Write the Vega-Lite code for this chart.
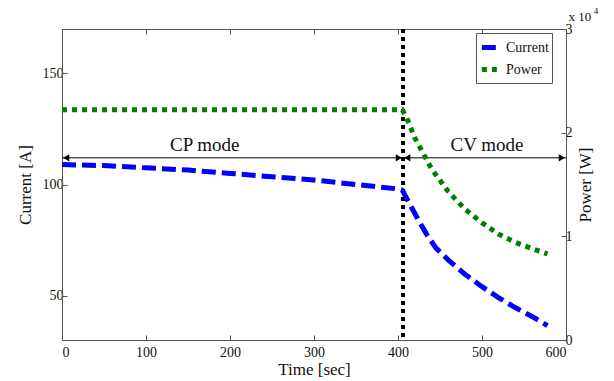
{
  "$schema": "https://vega.github.io/schema/vega-lite/v6.json",
  "width": 504,
  "height": 311,
  "autosize": {"type": "none"},
  "padding": {"left": 62, "top": 29, "right": 48, "bottom": 41},
  "background": "white",
  "config": {
    "font": "Liberation Serif",
    "view": {"stroke": "#555", "strokeWidth": 1},
    "axis": {
      "labelFont": "Liberation Serif", "titleFont": "Liberation Serif",
      "labelFontSize": 14, "titleFontSize": 17, "titleFontWeight": "normal",
      "labelColor": "#111", "titleColor": "#111",
      "domainColor": "#555", "tickColor": "#555", "grid": false
    }
  },
  "datasets": {
    "current": [
      {"t": 0, "current": 109, "series": "Current"},
      {"t": 50, "current": 108.5, "series": "Current"},
      {"t": 100, "current": 107.5, "series": "Current"},
      {"t": 150, "current": 106.5, "series": "Current"},
      {"t": 200, "current": 105, "series": "Current"},
      {"t": 250, "current": 103.5, "series": "Current"},
      {"t": 300, "current": 102, "series": "Current"},
      {"t": 350, "current": 100, "series": "Current"},
      {"t": 400, "current": 98, "series": "Current"},
      {"t": 405, "current": 97.5, "series": "Current"},
      {"t": 415, "current": 90.5, "series": "Current"},
      {"t": 425, "current": 83.5, "series": "Current"},
      {"t": 435, "current": 77, "series": "Current"},
      {"t": 445, "current": 71.5, "series": "Current"},
      {"t": 460, "current": 66, "series": "Current"},
      {"t": 480, "current": 59.5, "series": "Current"},
      {"t": 500, "current": 54, "series": "Current"},
      {"t": 520, "current": 49, "series": "Current"},
      {"t": 540, "current": 44.5, "series": "Current"},
      {"t": 560, "current": 40.5, "series": "Current"},
      {"t": 578, "current": 36.5, "series": "Current"}
    ],
    "power": [
      {"t": 0, "power": 22200, "series": "Power"},
      {"t": 200, "power": 22200, "series": "Power"},
      {"t": 405, "power": 22200, "series": "Power"},
      {"t": 410, "power": 21500, "series": "Power"},
      {"t": 420, "power": 19500, "series": "Power"},
      {"t": 440, "power": 16500, "series": "Power"},
      {"t": 460, "power": 14300, "series": "Power"},
      {"t": 480, "power": 12600, "series": "Power"},
      {"t": 500, "power": 11300, "series": "Power"},
      {"t": 520, "power": 10200, "series": "Power"},
      {"t": 540, "power": 9400, "series": "Power"},
      {"t": 560, "power": 8800, "series": "Power"},
      {"t": 578, "power": 8300, "series": "Power"}
    ],
    "switch": [{"t": 406}],
    "arrows": [
      {"x1": 0, "x2": 406, "y": 112},
      {"x1": 406, "x2": 600, "y": 112}
    ],
    "heads": [
      {"t": 5, "y": 112, "dir": "left"},
      {"t": 401, "y": 112, "dir": "right"},
      {"t": 411, "y": 112, "dir": "left"},
      {"t": 595, "y": 112, "dir": "right"}
    ],
    "labels": [
      {"t": 170, "y": 118, "text": "CP mode"},
      {"t": 506, "y": 118, "text": "CV mode"}
    ],
    "mult": [
      {"t": 603, "y": 175.5, "text": "x 10", "size": 13},
      {"t": 633, "y": 178, "text": "4", "size": 9}
    ]
  },
  "layer": [
    {
      "layer": [
        {
          "data": {"name": "switch"},
          "mark": {"type": "rule", "color": "black", "strokeWidth": 4, "strokeDash": [4, 4]},
          "encoding": {"x": {"field": "t", "type": "quantitative"}}
        },
        {
          "data": {"name": "current"},
          "mark": {"type": "line", "strokeWidth": 5},
          "encoding": {
            "x": {"field": "t", "type": "quantitative", "scale": {"domain": [0, 600]},
              "axis": {"title": "Time [sec]", "values": [0, 100, 200, 300, 400, 500, 600], "tickSize": -5, "labelPadding": 10, "titlePadding": 2}},
            "y": {"field": "current", "type": "quantitative", "scale": {"domain": [30, 170]},
              "axis": {"title": "Current [A]", "values": [50, 100, 150], "tickSize": -5, "labelPadding": 4, "titlePadding": 8}},
            "color": {"field": "series", "type": "nominal",
              "scale": {"domain": ["Current", "Power"], "range": ["#0000ff", "#008000"]},
              "legend": {"title": null, "orient": "none", "legendX": 414, "legendY": 4,
                "strokeColor": "#555", "fillColor": "white", "padding": 3,
                "labelFont": "Liberation Serif", "labelFontSize": 14, "labelColor": "#111",
                "symbolType": "stroke", "symbolStrokeWidth": 5, "symbolSize": 300, "rowPadding": 0}},
            "strokeDash": {"field": "series", "type": "nominal",
              "scale": {"domain": ["Current", "Power"], "range": [[14, 6], [5, 5]]},
              "legend": {"title": null, "orient": "none", "legendX": 414, "legendY": 4,
                "strokeColor": "#555", "fillColor": "white", "padding": 3,
                "labelFont": "Liberation Serif", "labelFontSize": 14, "labelColor": "#111",
                "symbolType": "stroke", "symbolStrokeWidth": 5, "symbolSize": 300, "rowPadding": 0}}
          }
        },
        {
          "data": {"name": "arrows"},
          "mark": {"type": "rule", "color": "black", "strokeWidth": 1},
          "encoding": {
            "x": {"field": "x1", "type": "quantitative"},
            "x2": {"field": "x2"},
            "y": {"field": "y", "type": "quantitative"}
          }
        },
        {
          "data": {"name": "heads"},
          "mark": {"type": "point", "filled": true, "color": "black", "size": 50, "opacity": 1},
          "encoding": {
            "x": {"field": "t", "type": "quantitative"},
            "y": {"field": "y", "type": "quantitative"},
            "shape": {"field": "dir", "type": "nominal",
              "scale": {"domain": ["left", "right"], "range": ["triangle-left", "triangle-right"]},
              "legend": null}
          }
        },
        {
          "data": {"name": "labels"},
          "mark": {"type": "text", "font": "Liberation Serif", "fontSize": 19, "color": "#111", "baseline": "middle"},
          "encoding": {
            "x": {"field": "t", "type": "quantitative"},
            "y": {"field": "y", "type": "quantitative"},
            "text": {"field": "text"}
          }
        },
        {
          "data": {"name": "mult"},
          "mark": {"type": "text", "font": "Liberation Serif", "color": "#111", "align": "left", "baseline": "middle"},
          "encoding": {
            "x": {"field": "t", "type": "quantitative"},
            "y": {"field": "y", "type": "quantitative"},
            "text": {"field": "text"},
            "size": {"field": "size", "type": "quantitative", "scale": null, "legend": null}
          }
        }
      ]
    },
    {
      "data": {"name": "power"},
      "mark": {"type": "line", "strokeWidth": 5},
      "encoding": {
        "x": {"field": "t", "type": "quantitative",
          "axis": {"orient": "top", "labels": false, "title": null, "values": [0, 100, 200, 300, 400, 500, 600], "tickSize": -5, "domain": false}},
        "y": {"field": "power", "type": "quantitative", "scale": {"domain": [0, 30000]},
          "axis": {"orient": "right", "title": "Power [W]", "titleAngle": 270, "values": [0, 10000, 20000, 30000],
            "labelExpr": "datum.value / 10000", "tickSize": -5, "labelPadding": 4, "titlePadding": 22}},
        "color": {"field": "series", "type": "nominal"},
        "strokeDash": {"field": "series", "type": "nominal"}
      }
    }
  ],
  "resolve": {"scale": {"y": "independent"}, "axis": {"x": "independent"}}
}
